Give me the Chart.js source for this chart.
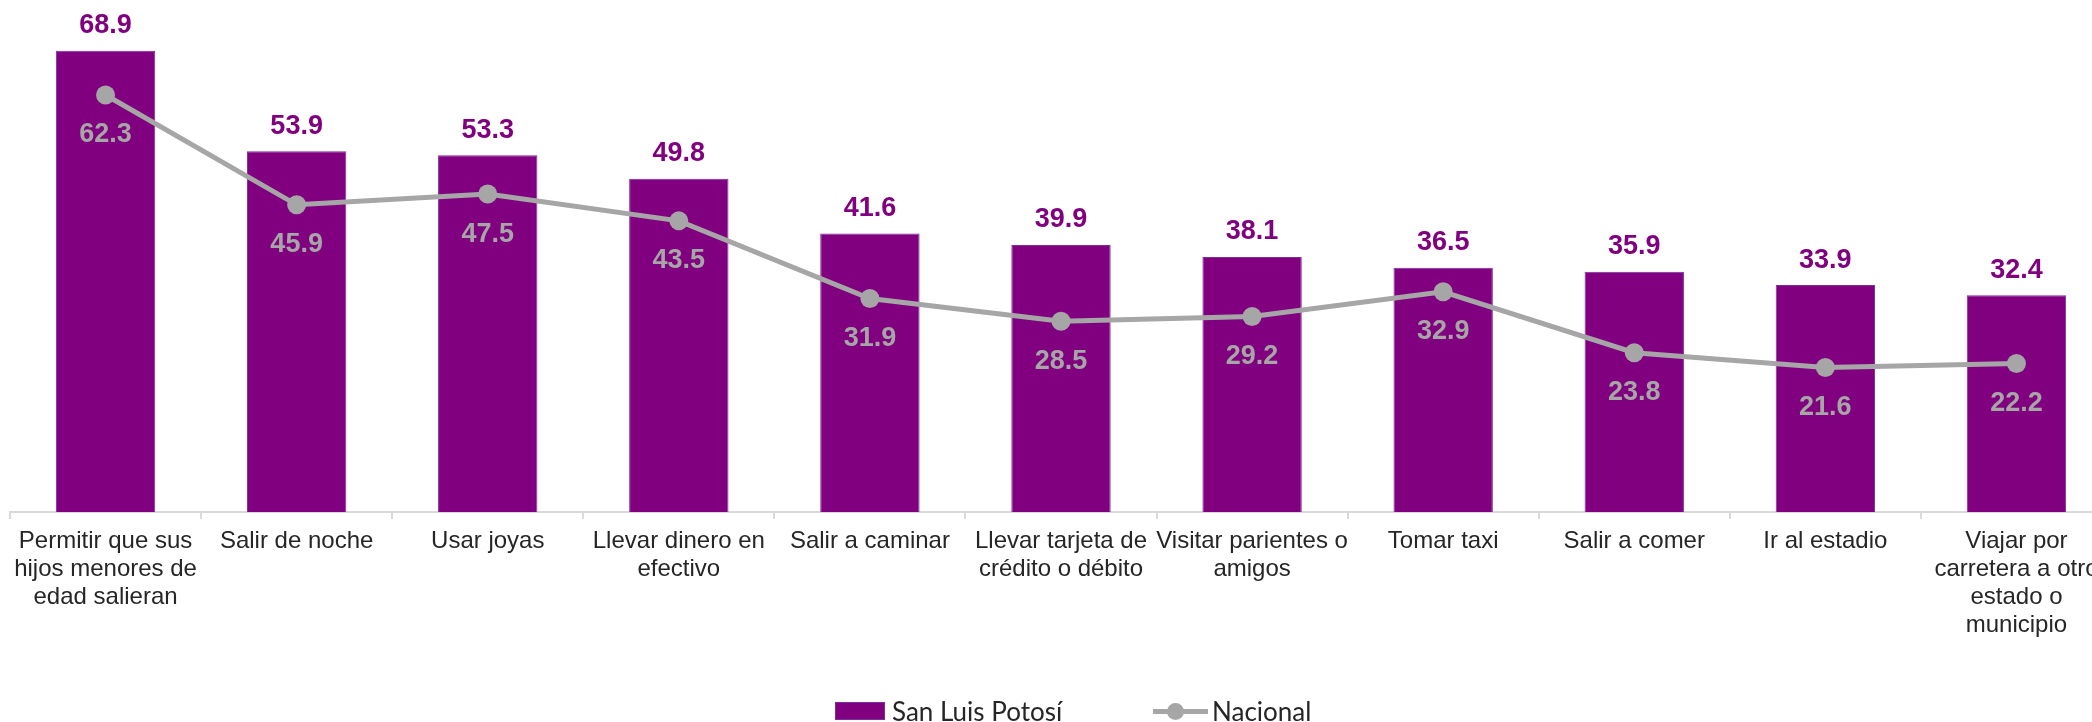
<!DOCTYPE html>
<html>
<head>
<meta charset="utf-8">
<script src="https://cdn.jsdelivr.net/npm/chart.js@4.4.1/dist/chart.umd.min.js"></script>
<style>
  html, body { margin: 0; padding: 0; background: #fff; overflow: hidden; }
  #wrap { position: relative; width: 2092px; height: 722px; overflow: hidden; }
  #chart { position: absolute; left: 0; top: 0; }
  .legend { position: absolute; top: 0; left: 0; font-family: Lato, "Open Sans", sans-serif; font-size: 26px; color: #262626; }
  .lg-box { position: absolute; left: 835px; top: 702px; width: 50px; height: 18px; background: #800080; border: 1px solid #7b2c9e; box-sizing: border-box; }
  .lg-text { position: absolute; top: 695px; line-height: 32px; white-space: nowrap; }
  .lg-line { position: absolute; left: 1153px; top: 709px; width: 55px; height: 5px; background: #a6a6a6; }
  .lg-dot { position: absolute; left: 1167px; top: 703px; width: 17px; height: 17px; border-radius: 50%; background: #a6a6a6; }
</style>
</head>
<body>
<div id="wrap">
  <canvas id="chart" width="2112" height="722"></canvas>
  <div class="legend">
    <div class="lg-box"></div>
    <div class="lg-text" style="left:892px">San Luis Potosí</div>
    <div class="lg-line"></div>
    <div class="lg-dot"></div>
    <div class="lg-text" style="left:1212px">Nacional</div>
  </div>
</div>
<script>
const categories = [
  ['Permitir que sus', 'hijos menores de', 'edad salieran'],
  ['Salir de noche'],
  ['Usar joyas'],
  ['Llevar dinero en', 'efectivo'],
  ['Salir a caminar'],
  ['Llevar tarjeta de', 'crédito o débito'],
  ['Visitar parientes o', 'amigos'],
  ['Tomar taxi'],
  ['Salir a comer'],
  ['Ir al estadio'],
  ['Viajar por', 'carretera a otro', 'estado o', 'municipio']
];
const sanLuis = [68.9, 53.9, 53.3, 49.8, 41.6, 39.9, 38.1, 36.5, 35.9, 33.9, 32.4];
const nacional = [62.3, 45.9, 47.5, 43.5, 31.9, 28.5, 29.2, 32.9, 23.8, 21.6, 22.2];

const PURPLE = '#800080';
const GREY = '#a6a6a6';

// value labels: above the bars, below the line points
const valueLabels = {
  id: 'valueLabels',
  afterDatasetsDraw(chart) {
    const ctx = chart.ctx;
    ctx.save();
    ctx.font = 'bold 27px "Liberation Sans", Arial, sans-serif';
    ctx.textAlign = 'center';
    ctx.textBaseline = 'middle';
    chart.getDatasetMeta(0).data.forEach((el, i) => {
      ctx.fillStyle = PURPLE;
      ctx.fillText(sanLuis[i].toFixed(1), el.x, el.y - 25);
    });
    chart.getDatasetMeta(1).data.forEach((el, i) => {
      ctx.fillStyle = GREY;
      ctx.fillText(nacional[i].toFixed(1), el.x, el.y + 40);
    });
    ctx.restore();
  }
};

new Chart(document.getElementById('chart').getContext('2d'), {
  type: 'bar',
  data: {
    labels: categories,
    datasets: [{
      type: 'bar',
      label: 'San Luis Potosí',
      data: sanLuis,
      backgroundColor: PURPLE,
      borderColor: '#7b2c9e',
      borderWidth: 1,
      barPercentage: 0.52,
      categoryPercentage: 1,
      order: 1
    }, {
      type: 'line',
      label: 'Nacional',
      data: nacional,
      borderColor: GREY,
      backgroundColor: GREY,
      borderWidth: 5,
      pointRadius: 9.5,
      pointBackgroundColor: GREY,
      pointBorderColor: GREY,
      pointBorderWidth: 0,
      tension: 0,
      order: 0
    }]
  },
  options: {
    responsive: false,
    animation: false,
    layout: { autoPadding: false, padding: { left: 10, right: 0, top: 0, bottom: 0 } },
    plugins: {
      legend: { display: false },
      tooltip: { enabled: false }
    },
    scales: {
      x: {
        afterFit(scale) { scale.height = 210; },
        grid: {
          display: true,
          drawOnChartArea: false,
          drawTicks: true,
          tickLength: 7,
          color: '#d9d9d9',
          lineWidth: 2,
          offset: true
        },
        border: { display: true, color: '#d9d9d9', width: 2 },
        ticks: {
          autoSkip: false,
          maxRotation: 0,
          minRotation: 0,
          padding: 8,
          color: '#262626',
          font: { family: '"Liberation Sans", Arial, sans-serif', size: 24, lineHeight: 1.17 }
        }
      },
      y: {
        display: false,
        min: 0,
        max: 76.5
      }
    }
  },
  plugins: [valueLabels]
});
</script>
</body>
</html>
